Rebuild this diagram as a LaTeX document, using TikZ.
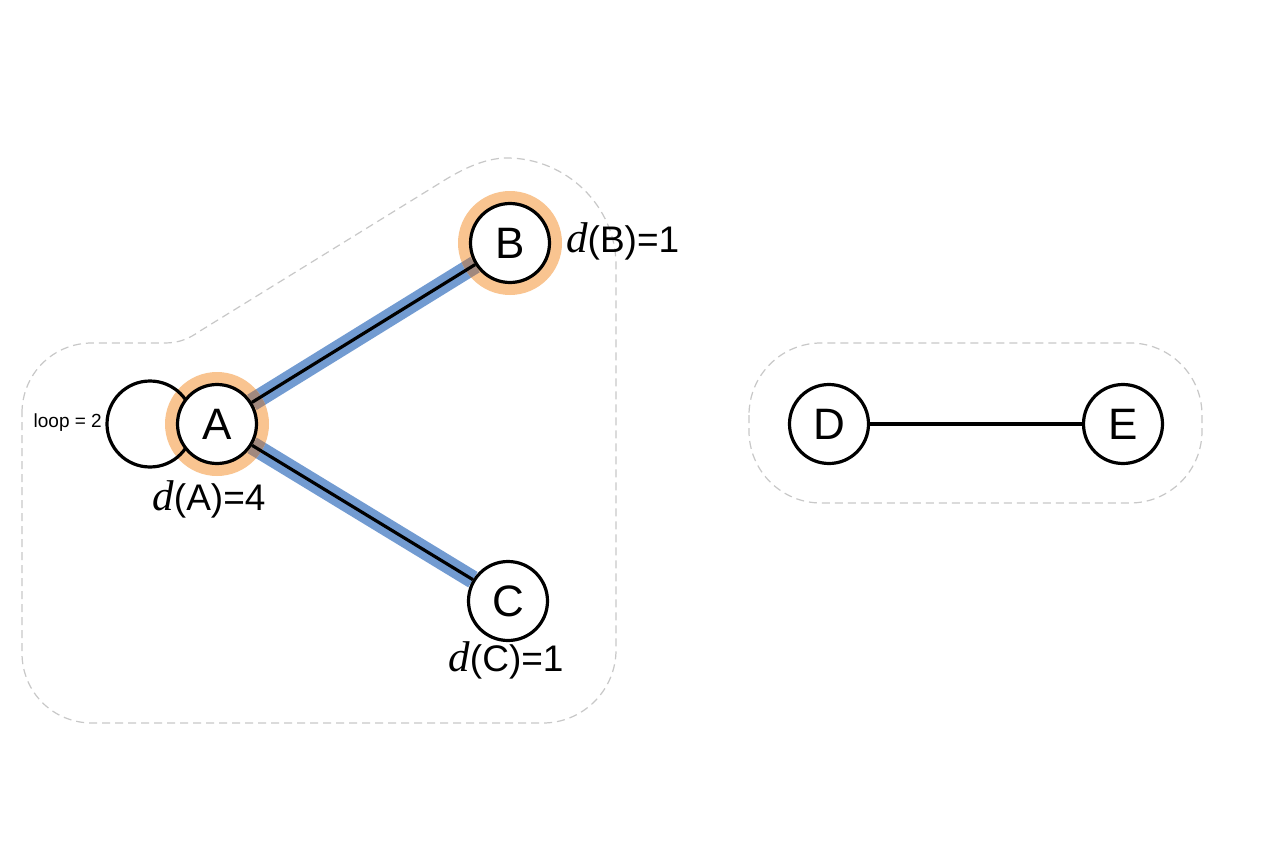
\documentclass[tikz,border=0pt]{standalone}
\usepackage{fontspec}
\setmainfont{Liberation Sans}
\newfontfamily\dserif{Liberation Serif}
\newcommand{\dvar}{{\dserif\itshape\fontsize{43}{43}\selectfont d}}
\definecolor{halo}{RGB}{249,196,144}
\definecolor{edgeblue}{RGB}{114,155,209}
\definecolor{overlap}{RGB}{160,136,126}
\definecolor{hullgray}{RGB}{200,200,200}
\pgfdeclarelayer{bg}
\pgfdeclarelayer{mid}
\pgfsetlayers{bg,mid,main}
\tikzset{
  vtx/.style={circle, draw=black, line width=3.2pt, fill=white, minimum size=79pt, inner sep=0pt, font=\fontsize{44}{44}\selectfont},
  hull/.style={draw=hullgray, line width=1.2pt, dash pattern=on 8pt off 5pt},
  blueedge/.style={draw=edgeblue, line width=18pt},
  blackedge/.style={draw=black, line width=3.2pt},
  degree/.style={font=\fontsize{37}{37}\selectfont, inner sep=0pt},
  halofill/.style={fill=halo}
}
\begin{document}
\begin{tikzpicture}[x=1pt,y=-1pt]
\useasboundingbox (0,0) rectangle (1264,848);
% nodes
\node[vtx] (A) at (217,424) {A};
\node[vtx] (B) at (510,243) {B};
\node[vtx] (C) at (508,601) {C};
\node[vtx] (D) at (829,424) {D};
\node[vtx] (E) at (1123,424) {E};
\coordinate (loopc) at (150,424);
% labels
\node[degree] (lA) at (209,499) {\dvar(A)=4};
\node[degree, anchor=west] (lB) at (566,241) {\dvar(B)=1};
\node[degree] (lC) at (506,660) {\dvar(C)=1};
\node[font=\fontsize{19}{19}\selectfont, anchor=east, inner sep=0pt] (lloop) at (102,423) {loop = 2};
\begin{pgfonlayer}{bg}
  \fill[white] (0,0) rectangle (1264,848);
  % hulls
  \draw[hull] (22,413) .. controls (22,374) and (53,343) .. (92,343)
     -- (165,343) .. controls (180,343) and (190,338) .. (200,331)
     -- (440,183) .. controls (462,169) and (485,158) .. (507,158)
     .. controls (566,158) and (616,206) .. (616,265)
     -- (616,650) .. controls (616,690) and (583,723) .. (543,723)
     -- (92,723) .. controls (53,723) and (22,692) .. (22,653) -- cycle;
  \draw[hull, rounded corners=72pt] (749,343) rectangle (1202,503);
  % blue edges
  \draw[blueedge] (A) -- (B);
  \draw[blueedge] (A) -- (C);
  % halos
  \fill[halofill] (A.center) circle[radius=52pt];
  \fill[halofill] (B.center) circle[radius=52pt];
  \begin{scope}
    \clip (A.center) circle[radius=52pt];
    \draw[blueedge, draw=overlap] (A) -- (B);
    \draw[blueedge, draw=overlap] (A) -- (C);
  \end{scope}
  \begin{scope}
    \clip (B.center) circle[radius=52pt];
    \draw[blueedge, draw=overlap] (A) -- (B);
  \end{scope}
\end{pgfonlayer}
\begin{pgfonlayer}{mid}
  \draw[blackedge] (A) -- (B);
  \draw[blackedge] (A) -- (C);
  \draw[blackedge] (D) -- (E);
  \draw[blackedge] (loopc) circle[radius=43pt];
\end{pgfonlayer}
\end{tikzpicture}
\end{document}
